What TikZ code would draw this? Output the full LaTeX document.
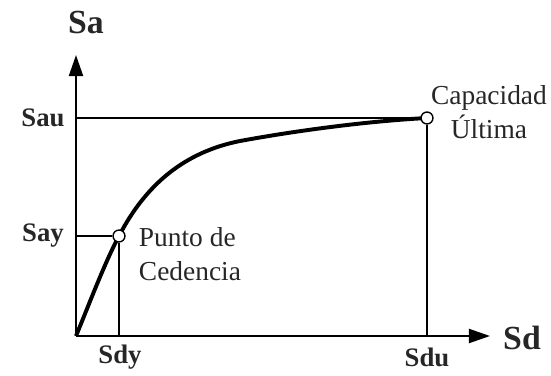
\documentclass[tikz,border=0pt]{standalone}
\usepackage{fontspec}
\setmainfont{Liberation Serif}
\usetikzlibrary{arrows.meta}

\begin{document}
\begin{tikzpicture}[
    eje/.style={line width=1.4pt,-{Triangle[length=15pt,width=10pt]}},
    guia/.style={line width=1pt},
    curva/.style={line width=2.8pt},
    punto/.style={circle,draw,fill=white,line width=1pt,inner sep=0pt,minimum size=8.5pt},
    etq/.style={font=\fontsize{19}{21}\selectfont\bfseries,text=black!85},
    ejeetq/.style={font=\fontsize{24}{26}\selectfont\bfseries,text=black!85},
    txt/.style={font=\fontsize{19.5}{24}\selectfont,align=center,text=black!85}
]
    \useasboundingbox (-1.9,-0.975) rectangle (11.875,8.4);

    \coordinate (O) at (0,0);
    \coordinate (ytop) at (0,7.025);
    \coordinate (xend) at (10.35,0);
    \coordinate (Y) at (1.075,2.5);
    \coordinate (U) at (8.775,5.45);

    % ejes
    \draw[eje] (O) -- (ytop);
    \draw[eje] (O) -- (xend);

    % curva de capacidad
    \draw[curva] (O) .. controls (0.35,0.85) and (0.725,1.85) .. (Y)
        .. controls (1.75,3.8) and (2.725,4.6) .. (4.1,4.875)
        .. controls (5.6,5.15) and (7.35,5.375) .. (U);

    \node[punto] (yld) at (Y) {};
    \node[punto] (ult) at (U) {};

    % lineas guia
    \draw[guia] (yld) -- (yld -| O);
    \draw[guia] (yld) -- (yld |- O);
    \draw[guia] (ult) -- (ult -| O);
    \draw[guia] (ult) -- (ult |- O);

    \node[ejeetq] (sa) at (0.25,7.85) {Sa};
    \node[ejeetq] (sd) at (11.15,-0.05) {Sd};
    \node[etq] (sau) at (-0.825,5.45) {Sau};
    \node[etq] (say) at (-0.825,2.5) {Say};
    \node[etq] (sdy) at (1.1,-0.525) {Sdy};
    \node[etq] (sdu) at (8.775,-0.525) {Sdu};

    \node[txt] (cap) at (10.325,5.6) {Capacidad\\Última};
    \node[txt,align=left,anchor=west] (ced) at (1.45,2.05) {Punto de\\Cedencia};
\end{tikzpicture}
\end{document}
